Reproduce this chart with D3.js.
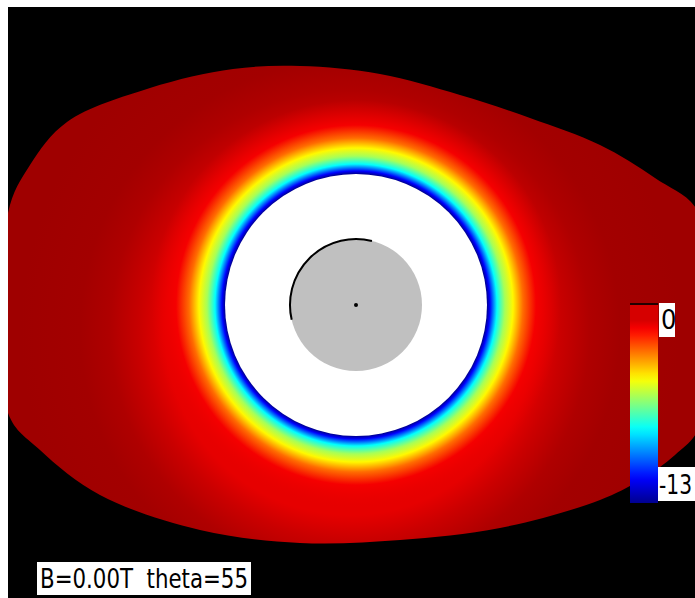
<!DOCTYPE html>
<html>
<head>
<meta charset="utf-8">
<script src="https://cdn.jsdelivr.net/npm/d3@7"></script>
<style>
  html, body { margin: 0; padding: 0; background: #fff; }
  svg { display: block; }
</style>
</head>
<body>
<svg id="chart"></svg>
<script>
// Chart size
const width = 695;
const height = 598;

// Colour scale range (log value shown on the colour bar)
const scaleMin = -13;
const scaleMax = 0;
const tickLabels = ["0", "-13"];
const caption = "B=0.00T  theta=55";

// Jet colour map stops (fraction of scale, colour)
const jetStops = [0, 0.125, 0.375, 0.625, 0.875, 1];
const jetColors = ["#00008f", "#0000ff", "#00ffff", "#ffff00", "#ff0000", "#800000"];

// Ring profile: distance from disc centre (px) -> value
const ringRadius = [131, 134, 141, 149, 157, 167, 180, 205];
const ringValue = [-13, -11.4, -8.1, -6.0, -4.8, -3.0, -1.5, -1.3];

// Outer glow profile (centre sits a little below the disc): distance -> value
const glowRadius = [0, 185, 210, 240, 270, 330];
const glowValue = [-1.3, -1.3, -0.95, -0.6, -0.45, -0.4];

// Outer edge of the emitting region (pixel outline)
const edgeX = [ 8, 30, 67, 150, 233, 300, 380, 460, 530, 600, 655, 700, 700, 675, 640, 600, 500, 400, 300, 200, 100, 40, 8];
const edgeY = [213, 165, 122, 88, 69, 66, 74, 95, 118, 145, 178, 215, 425, 455, 480, 500, 528, 540, 543, 530, 495, 450, 413];

// Disc radii and the arc on the inner disc
const centre = [356, 305];
const glowCentre = [350, 330];
const shadowRadius = 131;
const innerRadius = 66;
const arcStart = -103;  // degrees, clockwise from 12 o'clock
const arcEnd = 14;

const svg = d3.select('#chart')
    .attr('width', width)
    .attr('height', height);

const jet = d3.scaleLinear()
    .domain(jetStops.map(t => scaleMin + t * (scaleMax - scaleMin)))
    .range(jetColors)
    .clamp(true);

const defs = svg.append('defs');

function radialField(id, c, radii, values, fade) {
    const R = d3.max(radii);
    const g = defs.append('radialGradient')
        .attr('id', id)
        .attr('gradientUnits', 'userSpaceOnUse')
        .attr('cx', c[0]).attr('cy', c[1])
        .attr('r', R);
    radii.forEach((r, i) => {
        g.append('stop')
            .attr('offset', r / R)
            .attr('stop-color', jet(values[i]))
            .attr('stop-opacity', fade && i === radii.length - 1 ? 0 : 1);
    });
}
radialField('glow', glowCentre, glowRadius, glowValue, false);
radialField('ring', centre, [0].concat(ringRadius), [ringValue[0]].concat(ringValue), true);

// Black plotting area
svg.append('rect')
    .attr('x', 8).attr('y', 7)
    .attr('width', width - 8).attr('height', height - 7)
    .attr('fill', '#000');

const plot = svg.append('g');
plot.append('clipPath').attr('id', 'plotclip')
    .append('rect').attr('x', 8).attr('y', 7)
    .attr('width', width - 8).attr('height', height - 7);

const edge = d3.line().curve(d3.curveCatmullRomClosed);
const edgePath = edge(edgeX.map((x, i) => [x, edgeY[i]]));
plot.append('path')
    .attr('clip-path', 'url(#plotclip)')
    .attr('d', edgePath)
    .attr('fill', 'url(#glow)');

plot.append('circle')
    .attr('cx', centre[0]).attr('cy', centre[1])
    .attr('r', d3.max(ringRadius))
    .attr('fill', 'url(#ring)');

// Shadow disc
plot.append('circle')
    .attr('cx', centre[0]).attr('cy', centre[1])
    .attr('r', shadowRadius)
    .attr('fill', '#fff');

// Inner disc
plot.append('circle')
    .attr('cx', centre[0]).attr('cy', centre[1])
    .attr('r', innerRadius)
    .attr('fill', '#c0c0c0');

const arc = d3.arc()
    .innerRadius(innerRadius)
    .outerRadius(innerRadius)
    .startAngle(arcStart * Math.PI / 180)
    .endAngle(arcEnd * Math.PI / 180);
plot.append('path')
    .attr('transform', `translate(${centre[0]},${centre[1]})`)
    .attr('d', arc())
    .attr('fill', 'none')
    .attr('stroke', '#000')
    .attr('stroke-width', 2);

plot.append('circle')
    .attr('cx', centre[0]).attr('cy', centre[1])
    .attr('r', 2)
    .attr('fill', '#000');

// Colour bar
const barX = 630, barW = 28, barTop = 305, barBottom = 503;
const barScale = d3.scaleLinear().domain([scaleMin, scaleMax]).range([barBottom, barTop]);
const barGrad = defs.append('linearGradient')
    .attr('id', 'bar')
    .attr('x1', 0).attr('y1', 1).attr('x2', 0).attr('y2', 0);
const barValues = d3.range(0, 27).map(i => scaleMin + i * 0.5);
barValues.forEach(v => {
    barGrad.append('stop')
        .attr('offset', (v - scaleMin) / (scaleMax - scaleMin))
        .attr('stop-color', jet(Math.min(v, -1.1)));
});
svg.append('rect')
    .attr('x', barX).attr('y', barScale(scaleMax))
    .attr('width', barW).attr('height', barScale(scaleMin) - barScale(scaleMax))
    .attr('fill', 'url(#bar)');
svg.append('rect')
    .attr('x', barX).attr('y', barScale(scaleMax) - 2)
    .attr('width', barW).attr('height', 2)
    .attr('fill', '#200');

// Colour bar labels
const labelFont = '"Liberation Sans Narrow", "DejaVu Sans Condensed", "Liberation Sans", sans-serif';
svg.append('rect').attr('x', 659).attr('y', 303).attr('width', 16).attr('height', 34).attr('fill', '#fff');
svg.append('text')
    .attr('x', 661).attr('y', 329)
    .attr('font-family', labelFont).attr('font-size', 27)
    .attr('fill', '#000')
    .text(tickLabels[0]);
svg.append('rect').attr('x', 658).attr('y', 467).attr('width', 37).attr('height', 34).attr('fill', '#fff');
svg.append('text')
    .attr('x', 659).attr('y', 494)
    .attr('font-family', labelFont).attr('font-size', 27)
    .attr('textLength', 33).attr('lengthAdjust', 'spacingAndGlyphs')
    .attr('fill', '#000')
    .text(tickLabels[1]);

// Caption
svg.append('rect')
    .attr('x', 37).attr('y', 562)
    .attr('width', 214).attr('height', 33)
    .attr('fill', '#fff');
svg.append('text')
    .attr('x', 40).attr('y', 588)
    .attr('font-family', labelFont).attr('font-size', 27)
    .attr('textLength', 208).attr('lengthAdjust', 'spacingAndGlyphs')
    .attr('fill', '#000')
    .attr('xml:space', 'preserve')
    .style('white-space', 'pre')
    .text(caption);
</script>
</body>
</html>
